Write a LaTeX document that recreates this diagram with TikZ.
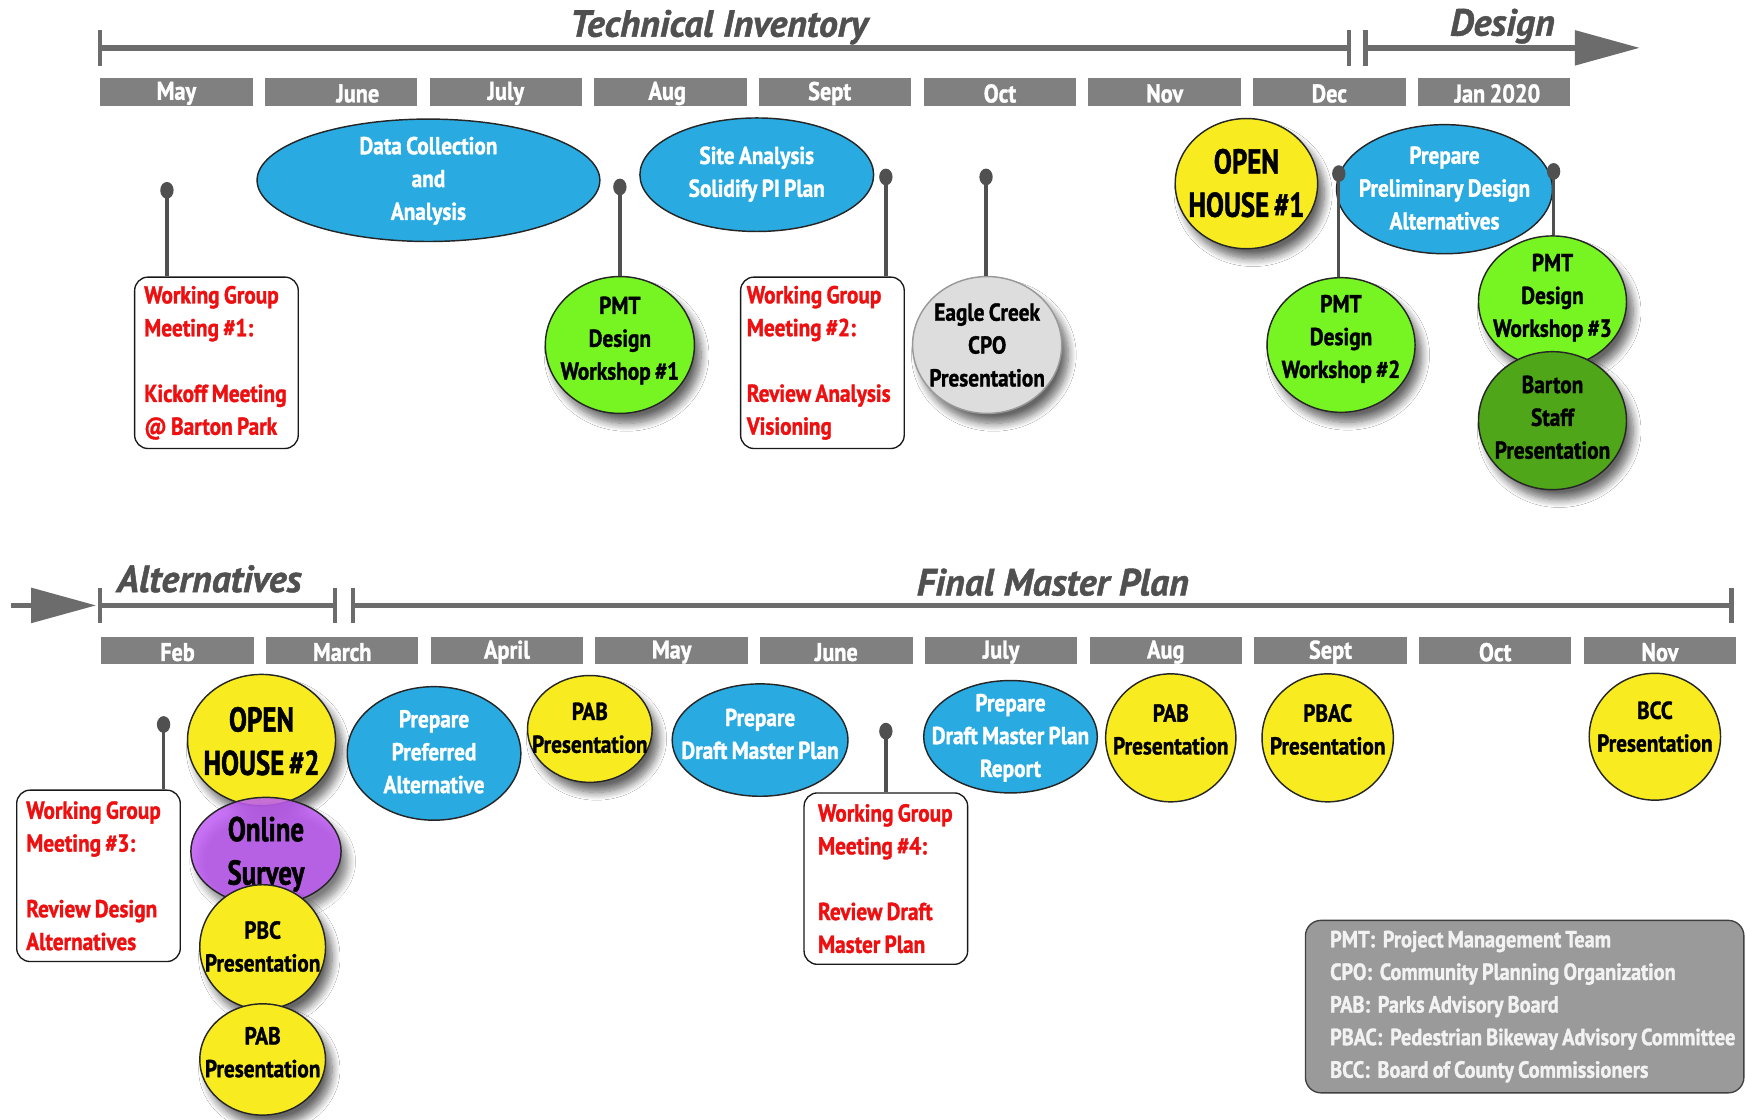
\documentclass[tikz,border=0pt]{standalone}
\usepackage{fontspec}
\setmainfont{PT Sans}[FakeStretch=0.87, WordSpace=0.8, BoldFeatures={FakeBold=1.3}]
\newfontfamily\bigfont{PT Sans}[FakeStretch=0.78, WordSpace=0.7, BoldFeatures={FakeBold=1.3}]
\newfontfamily\titlefont{PT Sans}[BoldItalicFeatures={FakeBold=1.2}]
\usetikzlibrary{shapes.geometric,shadows.blur}
\definecolor{cBlue}{RGB}{41,171,226}
\definecolor{cYellow}{RGB}{248,236,32}
\definecolor{cGreen}{RGB}{118,245,35}
\definecolor{cDkGreen}{RGB}{78,166,24}
\definecolor{cGrayBub}{RGB}{221,221,221}
\definecolor{cPurple}{RGB}{192,92,245}
\definecolor{cMonth}{RGB}{128,128,128}
\definecolor{cAxis}{RGB}{108,108,108}
\definecolor{cTitle}{RGB}{80,80,80}
\definecolor{cPin}{RGB}{80,80,80}
\definecolor{cRed}{RGB}{238,16,16}
\definecolor{cLegend}{RGB}{154,154,154}
\definecolor{cLegText}{RGB}{242,242,242}
% style, text style, name, x, y, width, height, text y, text
\newcommand{\evtbub}[9]{%
  \node[#1, minimum width=#6, minimum height=#7] (#3) at (#4,#5) {};
  \node[#2] (#3-t) at (#4,#8) {#9};}
\begin{document}
\begin{tikzpicture}[x=1pt,y=-1pt,
  every node/.style={font=\bfseries\fontsize{22}{29.5}\selectfont},
  title/.style={font=\titlefont\bfseries\itshape\fontsize{34}{35}\selectfont, text=cTitle, anchor=base, inner sep=0},
  monthbox/.style={fill=cMonth, minimum width=137, minimum height=25, inner sep=0},
  monthtxt/.style={text=white, inner sep=0, font=\bfseries\fontsize{23}{24}\selectfont},
  axisline/.style={draw=cAxis, line width=5},
  tickline/.style={draw=cAxis, line width=4},
  evt/.style={ellipse, draw=black!85, line width=1.3, inner sep=0},
  shad/.style={blur shadow={shadow xshift=6pt, shadow yshift=-9pt, shadow blur radius=7pt, shadow blur steps=10, shadow opacity=60}},
  bluebub/.style={evt, fill=cBlue},
  yelbub/.style={evt, fill=cYellow},
  yelshad/.style={evt, fill=cYellow, shad},
  grnbub/.style={evt, fill=cGreen, shad},
  dkgbub/.style={evt, fill=cDkGreen, shad},
  graybub/.style={evt, draw=black!40, fill=cGrayBub, shad},
  purbub/.style={evt, fill=cPurple, fill opacity=0.85, shad},
  wtxt/.style={text=white, align=center, inner sep=0},
  ktxt/.style={text=black, align=center, inner sep=0},
  bigtxt/.style={text=black, align=center, inner sep=0, font=\bigfont\bfseries\fontsize{31}{39}\selectfont},
  wgbox/.style={draw=black!90, line width=1.2, rounded corners=12, fill=white, minimum width=147, minimum height=154, inner sep=0},
  wgtxt/.style={text=cRed, align=left, anchor=west, inner sep=0},
  pindot/.style={ellipse, fill=cPin, minimum width=12, minimum height=15, inner sep=0},
  pinline/.style={draw=cPin, line width=3},
  legendbox/.style={draw=black!75, line width=1.2, rounded corners=14, fill=cLegend, minimum width=394, minimum height=155, inner sep=0},
  legendtxt/.style={text=cLegText, align=left, anchor=west, inner sep=0, font=\bfseries\fontsize{21}{29.3}\selectfont}
]
\useasboundingbox[fill=white] (0,0) rectangle (1568,1006);

% ---------------- top axis ----------------
\node[title] (tTI) at (646,33) {Technical Inventory};
\node[title] (tDes) at (1350,32) {Design};
\coordinate (ta0) at (90,43);
\coordinate (ta1) at (1212,43);
\coordinate (ta2) at (1227,43);
\coordinate (ta3) at (1420,43);
\draw[axisline] (ta0) -- (ta1);
\draw[axisline] (ta2) -- (ta3);
\draw[tickline] (90,27) -- (90,59);
\draw[tickline] (1212,27) -- (1212,59);
\draw[tickline] (1227,27) -- (1227,59);
\fill[cAxis] (1415,27) -- (1473,43) -- (1415,59) -- cycle;

\foreach \m/\dx [count=\i from 0] in {May/0,June/15,July/0,Aug/-3,Sept/-5,Oct/0,Nov/0,Dec/0,Jan 2020/3}{
  \node[monthbox] (tm\i) at ({158.5+148*\i},82.5) {};
  \node[monthtxt] (tml\i) at ({158.5+148*\i+\dx},84) {\m};
}

% ---------------- bottom axis ----------------
\node[title] (tAlt) at (188,532) {Alternatives};
\node[title] (tFMP) at (946,535) {Final Master Plan};
\coordinate (ba0) at (10,544);
\coordinate (ba1) at (40,544);
\coordinate (ba2) at (90,544);
\coordinate (ba3) at (301,544);
\coordinate (ba4) at (317,544);
\coordinate (ba5) at (1556,544);
\draw[axisline] (ba0) -- (ba1);
\fill[cAxis] (28,528) -- (86,544) -- (28,560) -- cycle;
\draw[axisline] (ba2) -- (ba3);
\draw[axisline] (ba4) -- (ba5);
\draw[tickline] (90,528) -- (90,560);
\draw[tickline] (301,528) -- (301,560);
\draw[tickline] (317,528) -- (317,560);
\draw[tickline] (1556,528) -- (1556,560);

\foreach \m [count=\i from 0] in {Feb,March,April,May,June,July,Aug,Sept,Oct,Nov}{
  \node[monthbox] (bm\i) at ({159.5+148*\i},584.5) {};
  \node[monthtxt] (bml\i) at ({159.5+148*\i},586) {\m};
}

% ---------------- top events ----------------
\evtbub{bluebub}{wtxt}{dc}{385}{162}{308}{110}{162.5}{Data Collection\\and\\Analysis}
\evtbub{bluebub}{wtxt}{sa}{680}{157}{210}{102}{156.5}{Site Analysis\\Solidify PI Plan}
\evtbub{bluebub}{wtxt}{pp}{1298}{170}{194}{116}{169}{Prepare\\Preliminary Design\\Alternatives}

\node[wgbox] (wg1) at (194.5,326) {};
\node[wgtxt] (wg1-t) at ([xshift=9pt]wg1.west) {Working Group\\Meeting \#1:\\[29.5pt]Kickoff Meeting\\@ Barton Park};
\node[wgbox] (wg2) at (739,326) {};
\node[wgtxt] (wg2-t) at ([xshift=6pt]wg2.west) {Working Group\\Meeting \#2:\\[29.5pt]Review Analysis\\Visioning};

\evtbub{grnbub}{ktxt}{pmt1}{557}{310}{134}{123}{306}{PMT\\Design\\Workshop \#1}
\evtbub{graybub}{ktxt}{ec}{887}{310}{134}{123}{310}{Eagle Creek\\CPO\\Presentation}
\evtbub{yelshad}{bigtxt}{oh1}{1120}{165}{128}{117}{164.5}{OPEN\\HOUSE \#1}
\evtbub{grnbub}{ktxt}{pmt2}{1205}{310}{133}{121}{304.5}{PMT\\Design\\Workshop \#2}
\evtbub{grnbub}{ktxt}{pmt3}{1395}{271}{133}{118}{267.5}{PMT\\Design\\Workshop \#3}
\evtbub{dkgbub}{ktxt}{bs}{1395}{378}{133}{124}{375}{Barton\\Staff\\Presentation}

\node[pindot] (d1) at (150,171) {};
\node[pindot] (d2) at (557,168) {};
\node[pindot] (d3) at (796,159) {};
\node[pindot] (d4) at (886,159) {};
\node[pindot] (d5) at (1203,156) {};
\node[pindot] (d6) at (1396,154) {};
\draw[pinline] (d1.center) -- (d1 |- wg1.north);
\draw[pinline] (d2.center) -- (d2 |- pmt1.north);
\draw[pinline] (d3.center) -- (d3 |- wg2.north);
\draw[pinline] (d4.center) -- (d4 |- ec.north);
\draw[pinline] (d5.center) -- (d5 |- pmt2.north);
\draw[pinline] (d6.center) -- (d6 |- pmt3.north);

% ---------------- bottom events ----------------
\node[wgbox] (wg3) at (88.5,787) {};
\node[wgtxt] (wg3-t) at ([xshift=9pt]wg3.west) {Working Group\\Meeting \#3:\\[29.5pt]Review Design\\Alternatives};
\node[wgbox] (wg4) at (796,789.5) {};
\node[wgtxt] (wg4-t) at ([xshift=13pt]wg4.west) {Working Group\\Meeting \#4:\\[29.5pt]Review Draft\\Master Plan};

\evtbub{yelshad}{bigtxt}{oh2}{235}{665}{133}{118}{666}{OPEN\\HOUSE \#2}
\evtbub{purbub}{bigtxt}{os}{239}{765}{135}{97}{767.5}{Online\\Survey}
\evtbub{yelshad}{ktxt}{pbc}{236}{851}{113}{112}{850.5}{PBC\\Presentation}
\evtbub{yelshad}{ktxt}{pab1}{236}{952}{113}{100}{945.5}{PAB\\Presentation}
\evtbub{bluebub}{wtxt}{ppa}{390}{677}{156}{120}{675.5}{Prepare\\Preferred\\Alternative}
\evtbub{yelshad}{ktxt}{pab2}{530}{655}{112}{96}{654}{PAB\\Presentation}
\evtbub{bluebub}{wtxt}{pdm}{683}{665}{158}{101}{659.5}{Prepare\\Draft Master Plan}
\evtbub{bluebub}{wtxt}{pdr}{908}{662}{156}{101}{663}{Prepare\\Draft Master Plan\\Report}
\evtbub{yelbub}{ktxt}{pab3}{1052}{663}{117}{115}{655.5}{PAB\\Presentation}
\evtbub{yelbub}{ktxt}{pbac}{1193}{663}{118}{115}{655.5}{PBAC\\Presentation}
\evtbub{yelbub}{ktxt}{bcc}{1487}{662}{118}{114}{653}{BCC\\Presentation}

\node[pindot] (d7) at (147,651) {};
\node[pindot] (d8) at (796,657) {};
\draw[pinline] (d7.center) -- (d7 |- wg3.north);
\draw[pinline] (d8.center) -- (d8 |- wg4.north);

% ---------------- legend ----------------
\node[legendbox] (leg) at (1370,904.5) {};
\node[legendtxt] (legt) at (1195,904.5) {PMT:\hspace{7pt}Project Management Team\\CPO:\hspace{7pt}Community Planning Organization\\PAB:\hspace{7pt}Parks Advisory Board\\PBAC:\hspace{7pt}Pedestrian Bikeway Advisory Committee\\BCC:\hspace{7pt}Board of County Commissioners};
\end{tikzpicture}
\end{document}
